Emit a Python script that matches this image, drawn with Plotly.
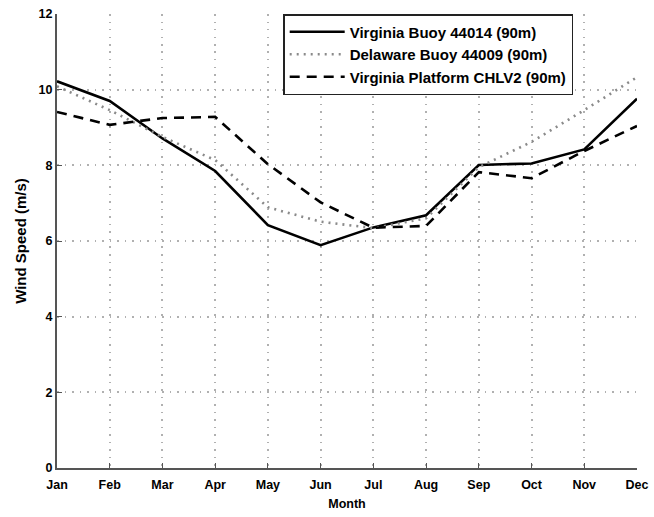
import plotly.graph_objects as go

months = ["Jan", "Feb", "Mar", "Apr", "May", "Jun", "Jul", "Aug", "Sep", "Oct", "Nov", "Dec"]
virginia_buoy = [10.22, 9.70, 8.71, 7.85, 6.42, 5.89, 6.36, 6.68, 8.01, 8.05, 8.42, 9.76]
delaware_buoy = [10.09, 9.46, 8.75, 8.14, 6.89, 6.51, 6.34, 6.60, 7.95, 8.62, 9.46, 10.33]
virginia_platform = [9.41, 9.07, 9.25, 9.28, 8.03, 7.02, 6.35, 6.40, 7.82, 7.66, 8.38, 9.04]

font_family = "Liberation Sans, Arial, sans-serif"
bold = "bold"

fig = go.Figure()
fig.add_trace(go.Scatter(x=months, y=virginia_buoy, mode="lines",
                         name="Virginia Buoy 44014 (90m)",
                         line=dict(color="black", width=2.6)))
fig.add_trace(go.Scatter(x=months, y=delaware_buoy, mode="lines",
                         name="Delaware Buoy 44009 (90m)",
                         line=dict(color="#8a8a8a", width=2.6, dash="2px,5px")))
fig.add_trace(go.Scatter(x=months, y=virginia_platform, mode="lines",
                         name="Virginia Platform CHLV2 (90m)",
                         line=dict(color="black", width=2.6, dash="10px,7px")))

grid = dict(showgrid=True, gridcolor="#b0b0b0", gridwidth=1.5, griddash="1.5px,6px")
tickfont = dict(size=12.5, weight=bold, family=font_family)

fig.update_layout(
    width=654, height=517,
    margin=dict(l=57, r=17, t=14, b=49),
    paper_bgcolor="white", plot_bgcolor="white",
    font=dict(family=font_family, size=13, color="black"),
    showlegend=True,
    legend=dict(x=0.39, y=1.0, xanchor="left", yanchor="top",
                bgcolor="white", bordercolor="#222", borderwidth=1.5,
                font=dict(size=15, weight=bold), tracegroupgap=0,
                itemwidth=55),
    xaxis=dict(type="category", range=[0, 11], **grid, automargin=False,
               showline=True, linecolor="#555", linewidth=2,
               ticks="inside", ticklen=5, tickcolor="#555",
               ticklabelstandoff=4,
               title=dict(text="Month", standoff=8, font=dict(size=12.5, weight=bold)),
               tickfont=tickfont, zeroline=False),
    yaxis=dict(range=[0, 12], dtick=2, **grid, automargin=False,
               showline=True, linecolor="#555", linewidth=2,
               ticks="inside", ticklen=5, tickcolor="#555",
               title=dict(text="Wind Speed (m/s)", standoff=8, font=dict(size=15, weight=bold)),
               tickfont=tickfont, zeroline=False),
)

fig.write_html("out.html", config={"displayModeBar": False},
               post_script="document.body.style.margin='0';")
